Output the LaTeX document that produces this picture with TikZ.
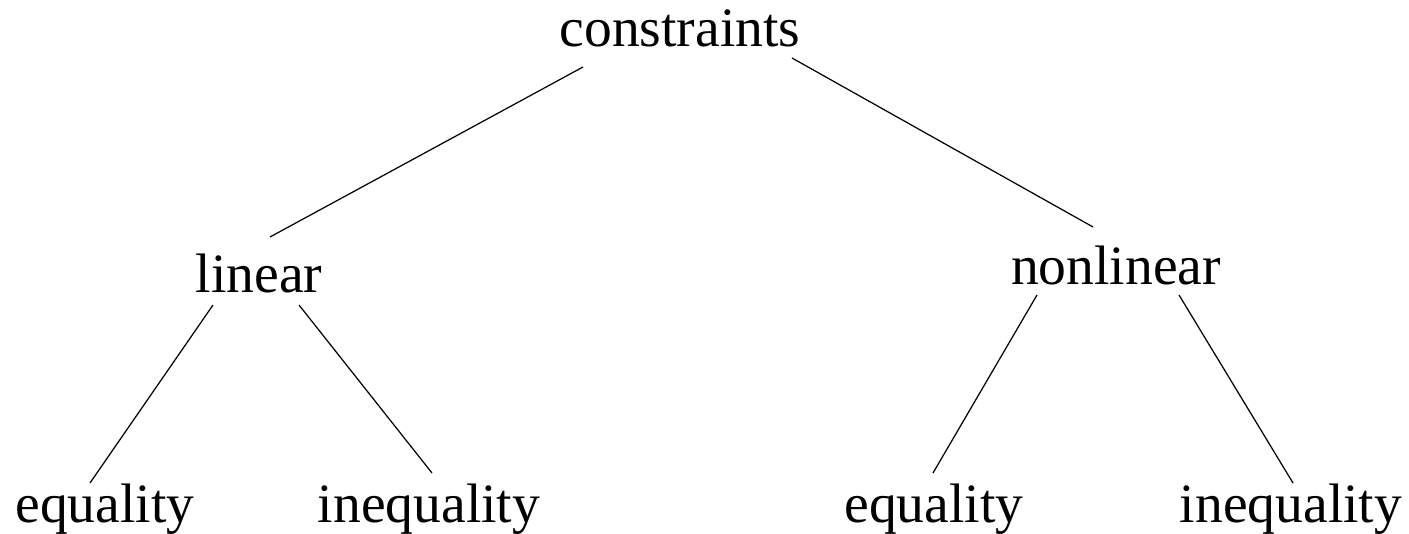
\documentclass[tikz,border=0pt]{standalone}
\usepackage{fontspec}
\setmainfont{Liberation Serif}
\usetikzlibrary{positioning}
\tikzset{
  term/.style={anchor=base,inner sep=0pt,font=\fontsize{15.8}{18}\selectfont},
  branch/.style={draw=black,line width=0.35pt},
}
\begin{document}
\begin{tikzpicture}[x=0.01cm,y=-0.01cm]
    \useasboundingbox (0,0) rectangle (1409,534);
    % tree labels
    \node[term] (cons) at (680,47) {constraints};
    \node[term] (lin) at (259,293) {linear};
    \node[term] (nonlin) at (1116,285) {nonlinear};
    \node[term] (lineq) at (105,522) {equality};
    \node[term] (linineq) at (429,522) {inequality};
    \node[term] (nleq) at (934,522) {equality};
    \node[term] (nlineq) at (1291,522) {inequality};
    % branches
    \draw[branch] ([shift={(-97,20)}]cons.base) -- ([shift={(11,-56)}]lin.base);
    \draw[branch] ([shift={(112,11)}]cons.base) -- ([shift={(-23,-58)}]nonlin.base);
    \draw[branch] ([shift={(-46,12)}]lin.base) -- ([shift={(-15,-39)}]lineq.base);
    \draw[branch] ([shift={(40,12)}]lin.base) -- ([shift={(3,-49)}]linineq.base);
    \draw[branch] ([shift={(-79,10)}]nonlin.base) -- ([shift={(-1,-49)}]nleq.base);
    \draw[branch] ([shift={(63,10)}]nonlin.base) -- ([shift={(2,-39)}]nlineq.base);
\end{tikzpicture}
\end{document}
